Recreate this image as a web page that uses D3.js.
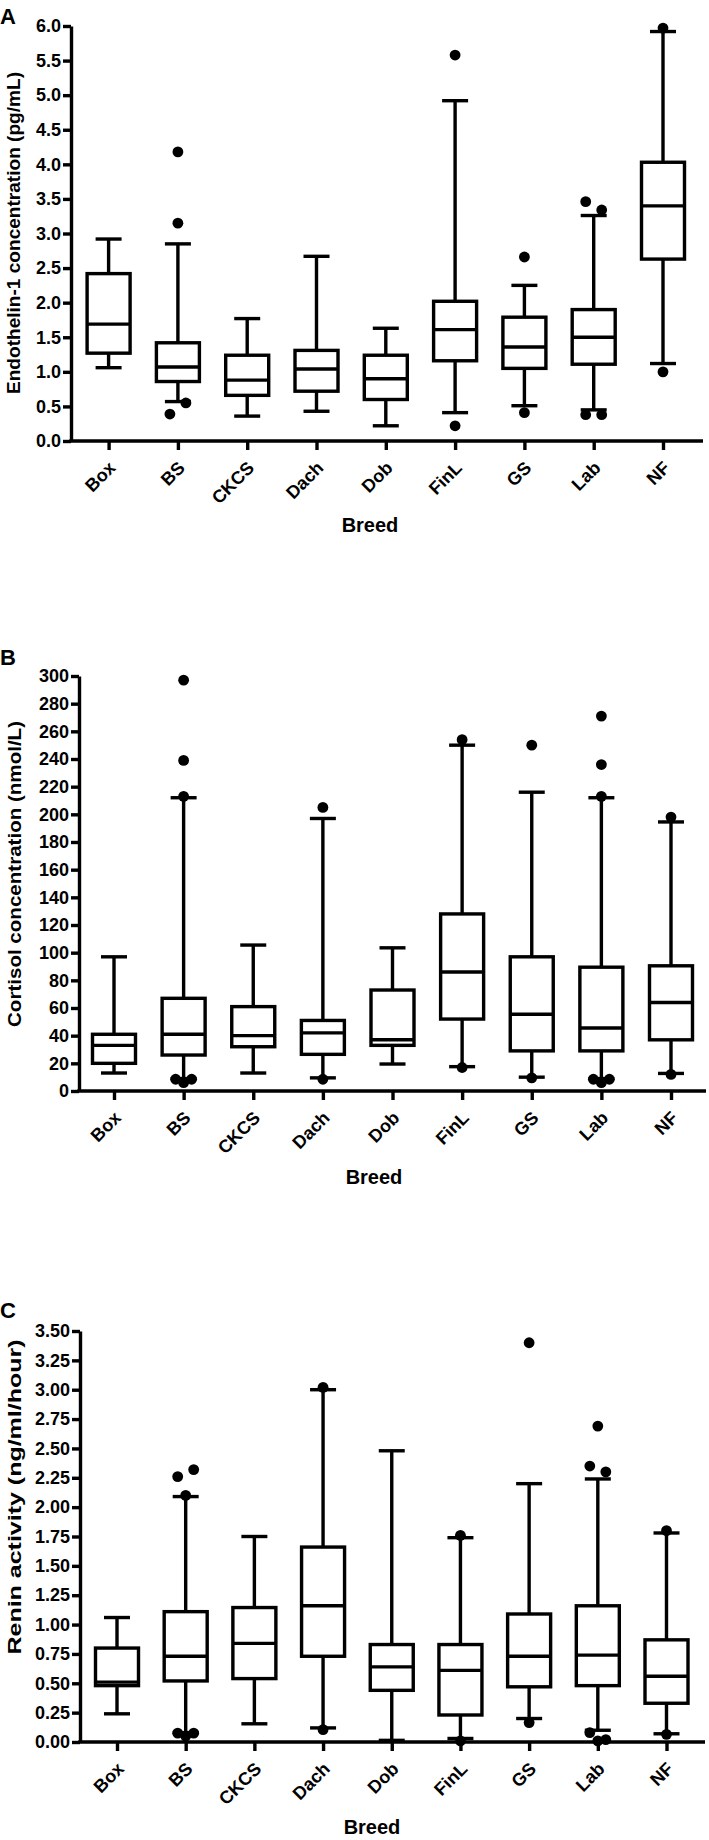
<!DOCTYPE html>
<html><head><meta charset="utf-8">
<script src="https://cdn.jsdelivr.net/npm/d3@7"></script>
<style>
body{margin:0;background:#fff}
svg{display:block}
text{font-family:"Liberation Sans",Arial,Helvetica,sans-serif;font-weight:bold;fill:#000}
</style>
</head><body>
<svg id="chart" width="709" height="1840"></svg>
<script>
// ---------- data ----------
const breeds = ["Box","BS","CKCS","Dach","Dob","FinL","GS","Lab","NF"];

// Panel A: Endothelin-1 concentration (pg/mL)
const et1Min = [1.06, 0.57, 0.36, 0.43, 0.22, 0.41, 0.51, 0.45, 1.12];
const et1Q1  = [1.27, 0.86, 0.66, 0.72, 0.60, 1.16, 1.05, 1.11, 2.63];
const et1Med = [1.69, 1.07, 0.88, 1.04, 0.90, 1.61, 1.36, 1.50, 3.40];
const et1Q3  = [2.42, 1.42, 1.24, 1.31, 1.24, 2.02, 1.79, 1.90, 4.03];
const et1Max = [2.92, 2.85, 1.77, 2.67, 1.63, 4.92, 2.25, 3.26, 5.92];
// [breed index, value, side (-1 left, 0 centre, 1 right)]
const et1Out = [[1,4.18,0],[1,3.15,0],[1,0.39,-1],[1,0.55,1],
                [5,5.58,0],[5,0.22,0],[6,2.66,0],[6,0.41,0],
                [7,3.46,-1],[7,3.34,1],[7,0.38,-1],[7,0.38,1],
                [8,5.97,0],[8,1.00,0]];
const et1Ticks = [0,0.5,1,1.5,2,2.5,3,3.5,4,4.5,5,5.5,6];

// Panel B: Cortisol concentration (nmol/L)
const corMin = [13, 9, 13, 9.5, 19.5, 17.6, 10, 9, 12.7];
const corQ1  = [20, 26, 32, 26.5, 33, 52, 29, 29, 37];
const corMed = [33, 41, 40, 42, 37, 86, 55.5, 45.5, 64];
const corQ3  = [41, 67, 61, 51, 73, 128, 97, 89.5, 90.5];
const corMax = [97, 212, 105.5, 197, 103.5, 250, 216, 212, 194.5];
const corOut = [[1,297,0],[1,239,0],[1,213,0],[1,8.5,-1],[1,6,0],[1,8.5,1],
                [3,205,0],[3,8.5,0],[5,254,0],[5,17,0],
                [6,250,0],[6,9.5,0],
                [7,271,0],[7,236,0],[7,213,0],[7,8.5,-1],[7,6,0],[7,8.5,1],
                [8,198,0],[8,12,0]];
const corTicks = [0,20,40,60,80,100,120,140,160,180,200,220,240,260,280,300];

// Panel C: Renin activity (ng/ml/hour)
const renMin = [0.24, 0.08, 0.155, 0.12, 0.014, 0.03, 0.20, 0.10, 0.07];
const renQ1  = [0.48, 0.52, 0.54, 0.73, 0.44, 0.23, 0.47, 0.48, 0.33];
const renMed = [0.51, 0.73, 0.84, 1.16, 0.64, 0.61, 0.73, 0.74, 0.56];
const renQ3  = [0.80, 1.11, 1.145, 1.66, 0.83, 0.83, 1.09, 1.16, 0.87];
const renMax = [1.06, 2.09, 1.75, 3.00, 2.48, 1.74, 2.20, 2.24, 1.78];
const renOut = [[1,2.26,-1],[1,2.32,1],[1,2.10,0],[1,0.075,-1],[1,0.05,0],[1,0.075,1],
                [3,3.02,0],[3,0.105,0],[5,1.76,0],[5,0.01,0],
                [6,3.40,0],[6,0.165,0],
                [7,2.69,0],[7,2.35,-1],[7,2.30,1],[7,0.08,-1],[7,0.01,0],[7,0.02,1],
                [8,1.80,0],[8,0.065,0]];
const renTicks = [0,0.25,0.5,0.75,1,1.25,1.5,1.75,2,2.25,2.5,2.75,3,3.25,3.5];

// ---------- drawing ----------
const svg = d3.select("#chart");
const SW = 3.4;

function drawPanel(cfg) {
  const g = svg.append("g");
  const y = d3.scaleLinear().domain([0, cfg.yMax]).range([cfg.yBottom, cfg.yTop]);
  const x = d3.scalePoint().domain(breeds).range([cfg.x0, cfg.x1]);

  // panel letter
  g.append("text").attr("x", 0).attr("y", cfg.letterY)
    .style("font-size", "22px").text(cfg.letter);

  // y axis
  const ya = g.append("g").attr("transform", `translate(${cfg.axisX},0)`)
    .call(d3.axisLeft(y).tickValues(cfg.ticks).tickFormat(cfg.fmt)
      .tickSize(8).tickSizeOuter(0).tickPadding(2));
  ya.select(".domain").attr("stroke", "#000").attr("stroke-width", SW);
  ya.selectAll(".tick line").attr("stroke", "#000").attr("stroke-width", SW);
  ya.selectAll(".tick text").style("font-size", "18px")
    .style("font-family", '"Liberation Sans",Arial,sans-serif').style("font-weight", "bold");

  // x axis
  const xa = g.append("g").attr("transform", `translate(0,${cfg.yBottom})`)
    .call(d3.axisBottom(x).tickSize(9).tickSizeOuter(0).tickFormat(""));
  xa.select(".domain").remove();
  xa.selectAll(".tick line").attr("stroke", "#000").attr("stroke-width", SW);
  g.append("line").attr("x1", cfg.axisX - SW / 2).attr("x2", cfg.axisEnd)
    .attr("y1", cfg.yBottom).attr("y2", cfg.yBottom)
    .attr("stroke", "#000").attr("stroke-width", SW);

  // category labels
  g.selectAll("text.cat").data(breeds).join("text").attr("class", "cat")
    .attr("text-anchor", "end")
    .attr("transform", d => `translate(${x(d) + 8},${cfg.yBottom + 28}) rotate(-45)`)
    .style("font-size", "18px").text(d => d);

  // axis titles
  g.append("text").attr("text-anchor", "middle")
    .attr("x", cfg.breedX).attr("y", cfg.breedY)
    .style("font-size", "20px").text("Breed");
  g.append("text").attr("text-anchor", "middle")
    .attr("transform", `translate(${cfg.titleX},${cfg.titleY}) rotate(-90)`)
    .attr("textLength", cfg.titleLen).attr("lengthAdjust", "spacingAndGlyphs")
    .style("font-size", "18px").text(cfg.title);

  // boxes
  const d = cfg.data;
  const boxW = 43, capW = 26;
  const items = breeds.map((b, i) => ({b, min: d.min[i], q1: d.q1[i], med: d.med[i], q3: d.q3[i], max: d.max[i]}));
  const bg = g.append("g").attr("stroke", "#000").attr("stroke-width", SW).attr("fill", "none");
  items.forEach(it => {
    const cx = x(it.b);
    bg.append("line").attr("x1", cx).attr("x2", cx).attr("y1", y(it.min)).attr("y2", y(it.max));
    bg.append("line").attr("x1", cx - capW / 2).attr("x2", cx + capW / 2).attr("y1", y(it.min)).attr("y2", y(it.min));
    bg.append("line").attr("x1", cx - capW / 2).attr("x2", cx + capW / 2).attr("y1", y(it.max)).attr("y2", y(it.max));
    bg.append("rect").attr("x", cx - boxW / 2).attr("width", boxW)
      .attr("y", y(it.q3)).attr("height", y(it.q1) - y(it.q3)).attr("fill", "#fff");
    bg.append("line").attr("x1", cx - boxW / 2).attr("x2", cx + boxW / 2).attr("y1", y(it.med)).attr("y2", y(it.med));
  });

  // outliers
  g.selectAll("circle.out").data(d.out).join("circle").attr("class", "out")
    .attr("cx", o => x(breeds[o[0]]) + o[2] * 8)
    .attr("cy", o => y(o[1])).attr("r", 5.4).attr("fill", "#000");
}

drawPanel({letter: "A", letterY: 24, yMax: 6, yTop: 26, yBottom: 441, axisX: 71, axisEnd: 703,
  x0: 108.6, x1: 663, ticks: et1Ticks, fmt: d3.format(".1f"),
  title: "Endothelin-1 concentration (pg/mL)", titleX: 20, titleY: 233, titleLen: 322,
  breedX: 370, breedY: 532,
  data: {min: et1Min, q1: et1Q1, med: et1Med, q3: et1Q3, max: et1Max, out: et1Out}});

drawPanel({letter: "B", letterY: 665, yMax: 300, yTop: 676, yBottom: 1091, axisX: 79, axisEnd: 706,
  x0: 114, x1: 671, ticks: corTicks, fmt: d3.format("d"),
  title: "Cortisol concentration (nmol/L)", titleX: 21, titleY: 874, titleLen: 306,
  breedX: 374, breedY: 1184,
  data: {min: corMin, q1: corQ1, med: corMed, q3: corQ3, max: corMax, out: corOut}});

drawPanel({letter: "C", letterY: 1318, yMax: 3.5, yTop: 1331, yBottom: 1742, axisX: 80, axisEnd: 705,
  x0: 117, x1: 666.5, ticks: renTicks, fmt: d3.format(".2f"),
  title: "Renin activity (ng/ml/hour)", titleX: 21, titleY: 1497, titleLen: 315,
  breedX: 372, breedY: 1834,
  data: {min: renMin, q1: renQ1, med: renMed, q3: renQ3, max: renMax, out: renOut}});
</script>
</body></html>
